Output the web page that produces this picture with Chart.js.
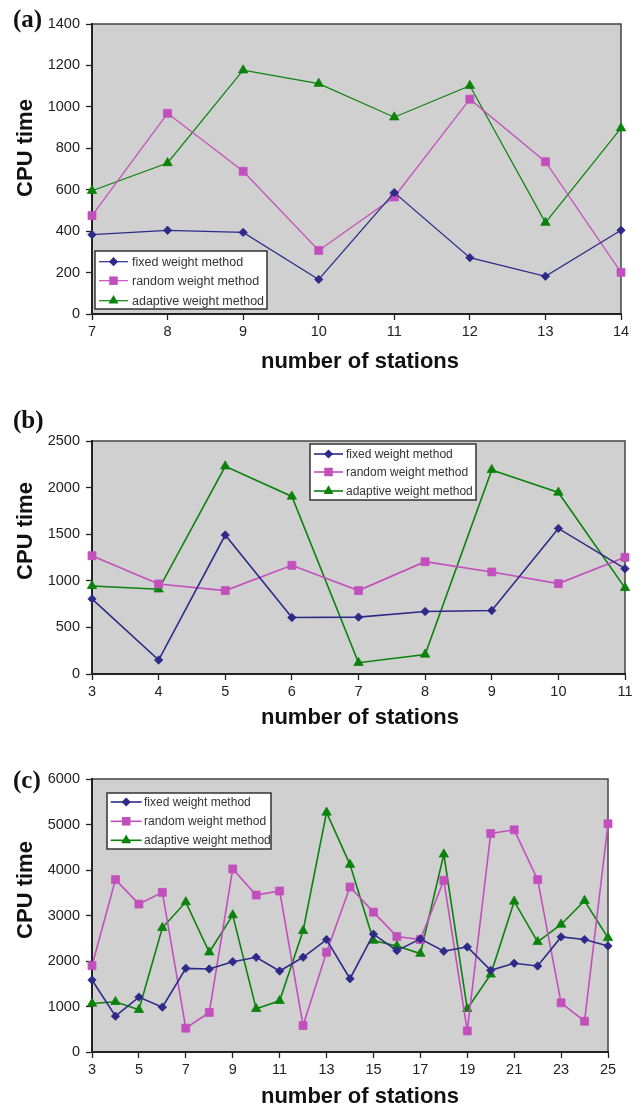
<!DOCTYPE html>
<html>
<head>
<meta charset="utf-8">
<script src="https://cdn.jsdelivr.net/npm/chart.js@4.4.1/dist/chart.umd.min.js"></script>
<style>
  html, body { margin: 0; padding: 0; background: #fff; }
  body { width: 642px; height: 1110px; position: relative; overflow: hidden; }
  canvas { position: absolute; left: 0; }
  .panel { position: absolute; left: 13px; font: bold 25px 'Liberation Serif', 'Times New Roman', serif; color: #111; line-height: 1; }
</style>
</head>
<body>
<canvas id="chartA" width="642" height="380" style="top:0px"></canvas>
<canvas id="chartB" width="642" height="360" style="top:380px"></canvas>
<canvas id="chartC" width="642" height="370" style="top:740px"></canvas>
<div class="panel" style="top:6px">(a)</div>
<div class="panel" style="top:407px">(b)</div>
<div class="panel" style="top:767px">(c)</div>
<script>
const seriesNames = ['fixed weight method', 'random weight method', 'adaptive weight method'];

// (a)
const stationsA = [7, 8, 9, 10, 11, 12, 13, 14];
const fixedA = [383, 404, 394, 167, 586, 272, 182, 404];
const randomA = [475, 969, 689, 307, 565, 1037, 735, 201];
const adaptiveA = [595, 729, 1177, 1112, 950, 1102, 441, 897];
const xTicksA = [7, 8, 9, 10, 11, 12, 13, 14];
const yTicksA = [0, 200, 400, 600, 800, 1000, 1200, 1400];

// (b)
const stationsB = [3, 4, 5, 6, 7, 8, 9, 10, 11];
const fixedB = [806, 150, 1491, 606, 610, 670, 681, 1562, 1130];
const randomB = [1269, 966, 895, 1166, 895, 1205, 1095, 970, 1252];
const adaptiveB = [945, 909, 2229, 1905, 121, 210, 2190, 1948, 924];
const xTicksB = [3, 4, 5, 6, 7, 8, 9, 10, 11];
const yTicksB = [0, 500, 1000, 1500, 2000, 2500];

// (c)
const stationsC = [3, 4, 5, 6, 7, 8, 9, 10, 11, 12, 13, 14, 15, 16, 17, 18, 19, 20, 21, 22, 23, 24, 25];
const fixedC = [1582, 788, 1207, 986, 1839, 1824, 1985, 2082, 1780, 2082, 2471, 1610, 2589, 2228, 2486, 2214, 2309, 1795, 1950, 1890, 2530, 2471, 2331];
const randomC = [1897, 3788, 3251, 3508, 523, 869, 4023, 3450, 3538, 582, 2193, 3626, 3074, 2537, 2471, 3773, 463, 4802, 4883, 3788, 1081, 677, 5016];
const adaptiveC = [1067, 1103, 927, 2729, 3295, 2193, 3008, 949, 1125, 2662, 5265, 4118, 2449, 2331, 2162, 4346, 949, 1707, 3309, 2420, 2802, 3324, 2508];
const xTicksC = [3, 5, 7, 9, 11, 13, 15, 17, 19, 21, 23, 25];
const yTicksC = [0, 1000, 2000, 3000, 4000, 5000, 6000];

const colors = ['#2e2a88', '#c24fbc', '#0b820b'];
const styles = ['rectRot', 'rect', 'triangle'];
const radii = [4.2, 5.6, 5.4];
const FONT = "'Liberation Sans', Arial, sans-serif";

function drawMarker(ctx, style, x, y, r) {
    ctx.beginPath();
    if (style === 'rectRot') {
        ctx.moveTo(x - r, y); ctx.lineTo(x, y - r); ctx.lineTo(x + r, y); ctx.lineTo(x, y + r);
    } else if (style === 'rect') {
        const s = r * Math.SQRT1_2;
        ctx.rect(x - s, y - s, 2 * s, 2 * s);
    } else {
        const w = r * Math.sqrt(3) / 2;
        ctx.moveTo(x, y - r); ctx.lineTo(x + w, y + r / 2); ctx.lineTo(x - w, y + r / 2);
    }
    ctx.closePath();
    ctx.fill();
}

// gray plot area, frame, legend box and axis titles
const framePlugin = {
    id: 'frame',
    beforeDraw(chart) {
        const { ctx, chartArea: a } = chart;
        ctx.save();
        ctx.fillStyle = '#d0d0d0';
        ctx.fillRect(a.left, a.top, a.right - a.left, a.bottom - a.top);
        ctx.strokeStyle = '#444';
        ctx.lineWidth = 1.5;
        ctx.strokeRect(a.left, a.top, a.right - a.left, a.bottom - a.top);
        ctx.restore();
    },
    afterDraw(chart) {
        const L = chart.options.plugins.frame;
        const { ctx } = chart;
        const lg = L.legend;
        ctx.save();
        ctx.fillStyle = '#fff';
        ctx.fillRect(lg.x, lg.y, lg.w, lg.h);
        ctx.strokeStyle = '#333';
        ctx.lineWidth = 1.5;
        ctx.strokeRect(lg.x, lg.y, lg.w, lg.h);
        chart.data.datasets.forEach((ds, i) => {
            const y = lg.rows[i];
            ctx.strokeStyle = ds.borderColor;
            ctx.lineWidth = ds.borderWidth;
            ctx.beginPath();
            ctx.moveTo(lg.lineX[0], y);
            ctx.lineTo(lg.lineX[1], y);
            ctx.stroke();
            ctx.fillStyle = ds.backgroundColor;
            drawMarker(ctx, ds.pointStyle, (lg.lineX[0] + lg.lineX[1]) / 2, y, ds.pointRadius + 0.4);
            ctx.fillStyle = '#333';
            ctx.font = lg.font + 'px ' + FONT;
            ctx.textBaseline = 'middle';
            ctx.textAlign = 'left';
            ctx.fillText(ds.label, lg.textX, y + 0.5);
        });

        ctx.fillStyle = '#111';
        ctx.font = 'bold 22px ' + FONT;
        ctx.textAlign = 'center';
        ctx.textBaseline = 'middle';
        ctx.fillText('number of stations', L.xTitle.x, L.xTitle.y);
        ctx.translate(L.yTitle.x, L.yTitle.y);
        ctx.rotate(-Math.PI / 2);
        ctx.fillText('CPU time', 0, 0);
        ctx.restore();
    }
};

function makeChart(id, xs, series, xTicks, yTicks, L) {
    const datasets = series.map((vals, i) => ({
        label: seriesNames[i],
        data: xs.map((x, k) => ({ x: x, y: vals[k] })),
        borderColor: colors[i],
        backgroundColor: colors[i],
        pointStyle: styles[i],
        pointRadius: radii[i],
        pointBorderWidth: 0.8,
        borderWidth: L.lineWidth,
        tension: 0,
        clip: false
    }));
    const tickFont = { family: FONT, size: 14.5 };
    return new Chart(document.getElementById(id), {
        type: 'line',
        data: { datasets },
        plugins: [framePlugin],
        options: {
            responsive: false,
            animation: false,
            devicePixelRatio: 1,
            layout: { padding: { left: 0, top: L.top, right: 642 - L.right, bottom: 0 } },
            plugins: {
                legend: { display: false },
                tooltip: { enabled: false },
                frame: L
            },
            scales: {
                x: {
                    type: 'linear',
                    min: xs[0],
                    max: xs[xs.length - 1],
                    afterBuildTicks: s => { s.ticks = xTicks.map(v => ({ value: v })); },
                    afterFit: s => { s.height = L.h - L.bottom; },
                    grid: { drawOnChartArea: false, drawTicks: true, tickLength: 6, tickColor: '#222', tickWidth: 1.3 },
                    border: { display: true, color: '#222', width: 2 },
                    ticks: { color: '#222', font: tickFont, padding: 3, maxRotation: 0, autoSkip: false, callback: v => String(v) }
                },
                y: {
                    min: yTicks[0],
                    max: yTicks[yTicks.length - 1],
                    afterBuildTicks: s => { s.ticks = yTicks.map(v => ({ value: v })); },
                    afterFit: s => { s.width = 92; },
                    grid: { drawOnChartArea: false, drawTicks: true, tickLength: 6, tickColor: '#222', tickWidth: 1.3 },
                    border: { display: true, color: '#222', width: 2 },
                    ticks: { color: '#222', font: tickFont, padding: 6, callback: v => String(v) }
                }
            }
        }
    });
}

makeChart('chartA', stationsA, [fixedA, randomA, adaptiveA], xTicksA, yTicksA, {
    h: 380, top: 24, bottom: 314, right: 621, lineWidth: 1.2,
    legend: { x: 95, y: 251, w: 172, h: 58, rows: [261.7, 280.7, 300.7], lineX: [99, 128], textX: 132, font: 12.5 },
    yTitle: { x: 26, y: 148 }, xTitle: { x: 360, y: 362 }
});
makeChart('chartB', stationsB, [fixedB, randomB, adaptiveB], xTicksB, yTicksB, {
    h: 360, top: 61, bottom: 294, right: 625, lineWidth: 1.6,
    legend: { x: 310, y: 64, w: 166, h: 56, rows: [74, 92, 111], lineX: [314, 343], textX: 346, font: 12 },
    yTitle: { x: 26, y: 151 }, xTitle: { x: 360, y: 338 }
});
makeChart('chartC', stationsC, [fixedC, randomC, adaptiveC], xTicksC, yTicksC, {
    h: 370, top: 39, bottom: 312, right: 608, lineWidth: 1.6,
    legend: { x: 107, y: 53, w: 164, h: 56, rows: [62, 81.3, 100.3], lineX: [110.7, 141.7], textX: 144, font: 12 },
    yTitle: { x: 26, y: 150 }, xTitle: { x: 360, y: 357 }
});
</script>
</body>
</html>
